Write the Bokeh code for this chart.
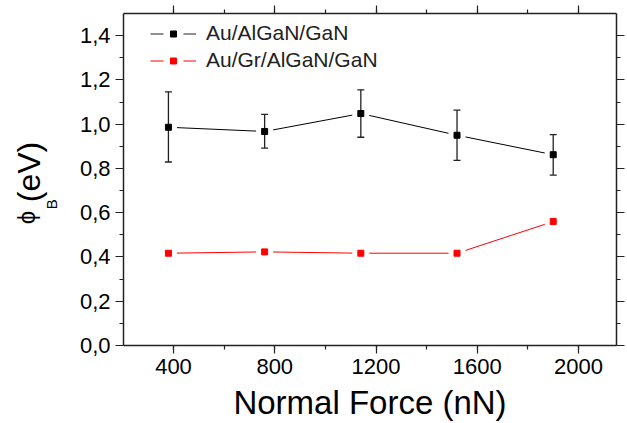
from bokeh.plotting import figure
from bokeh.layouts import row
from bokeh.models import (LinearAxis, SingleIntervalTicker, CustomJSTickFormatter,
                          Legend, LegendItem, Range1d, ColumnDataSource)
from bokeh.core.properties import value
from bokeh.embed import file_html
from bokeh.resources import INLINE
import math

# ---- data ----
force = [380, 760, 1140, 1520, 1900]
au_phi = [0.986, 0.967, 1.048, 0.950, 0.862]
au_hi = [1.146, 1.044, 1.155, 1.063, 0.953]
au_lo = [0.829, 0.892, 0.941, 0.836, 0.770]
gr_phi = [0.417, 0.423, 0.417, 0.417, 0.560]
labels = ["Au/AlGaN/GaN", "Au/Gr/AlGaN/GaN"]
x_title = "Normal Force (nN)"
y_title_parts = ["\u03d5", "B", "(eV)"]

FONT = "Liberation Sans"
W, H = 627, 423
LW = 60  # width of the strip holding the y-axis title

# ---- strip with the rotated y-axis title ----
q = figure(width=LW, height=H, output_backend="svg", toolbar_location=None,
           x_range=Range1d(0, LW), y_range=Range1d(0, H),
           x_axis_type=None, y_axis_type=None,
           min_border_left=0, min_border_right=0, min_border_top=0, min_border_bottom=0)
q.grid.visible = False
q.outline_line_color = None
ang = math.pi / 2
q.text(x=[26], y=[H - 260], text=[y_title_parts[0]], angle=ang, text_align="center",
       text_baseline="middle", text_font=value(FONT), text_font_size=value("24px"),
       text_color="black")
q.text(x=[51], y=[H - 243], text=[y_title_parts[1]], angle=ang, text_align="center",
       text_baseline="middle", text_font=value(FONT), text_font_size=value("15px"),
       text_color="black")
q.text(x=[28], y=[H - 202], text=[y_title_parts[2]], angle=ang, text_align="center",
       text_baseline="middle", text_font=value(FONT), text_font_size=value("32px"),
       text_color="black")

# ---- main plot ----
p = figure(width=W - LW, height=H, output_backend="svg", toolbar_location=None,
           x_range=Range1d(202.5, 2150), y_range=Range1d(0, 1.5),
           min_border_left=123 - LW, min_border_right=11, min_border_top=13, min_border_bottom=78)
p.grid.visible = False
p.outline_line_color = None
p.background_fill_color = "white"
p.border_fill_color = "white"

yfmt = CustomJSTickFormatter(code="return tick.toFixed(1).replace('.', ',');")
blank = CustomJSTickFormatter(code="return '';")

for ax in p.xaxis:
    ax.ticker = SingleIntervalTicker(interval=400, num_minor_ticks=2)
    ax.axis_label = x_title
for ax in p.yaxis:
    ax.ticker = SingleIntervalTicker(interval=0.2, num_minor_ticks=2)
    ax.formatter = yfmt

def style(ax):
    ax.axis_line_color = "#222222"
    ax.axis_line_width = 1.5
    ax.major_tick_line_color = "#222222"
    ax.minor_tick_line_color = "#222222"
    ax.major_tick_line_width = 1.2
    ax.minor_tick_line_width = 1.2
    ax.major_tick_in = 0
    ax.minor_tick_in = 0
    ax.major_tick_out = 8
    ax.minor_tick_out = 4
    ax.major_label_text_font = FONT
    ax.major_label_text_color = "black"
    ax.major_label_text_font_size = "22px"

for ax in p.xaxis + p.yaxis:
    style(ax)
p.xaxis.major_label_standoff = 5
p.yaxis.major_label_standoff = 5
p.xaxis.axis_label_text_font = FONT
p.xaxis.axis_label_text_font_size = "33px"
p.xaxis.axis_label_text_font_style = "normal"
p.xaxis.axis_label_text_color = "black"
p.xaxis.axis_label_standoff = 7

top = LinearAxis(ticker=SingleIntervalTicker(interval=400, num_minor_ticks=2), formatter=blank)
right = LinearAxis(ticker=SingleIntervalTicker(interval=0.2, num_minor_ticks=2), formatter=blank)
for ax in (top, right):
    style(ax)
    ax.major_label_standoff = 0
p.add_layout(top, "above")
p.add_layout(right, "right")

src_b = ColumnDataSource(dict(x=force, y=au_phi, hi=au_hi, lo=au_lo))
src_r = ColumnDataSource(dict(x=force, y=gr_phi))

# ---- black series ----
p.line("x", "y", source=src_b, line_color="black", line_width=1)
p.scatter("x", "y", source=src_b, marker="square", size=16, fill_color="white", line_color="white")
p.segment(x0="x", y0="lo", x1="x", y1="hi", source=src_b, line_color="#222222", line_width=1.3)
p.scatter("x", "hi", source=src_b, marker="dash", size=7, line_color="#222222", line_width=1.3)
p.scatter("x", "lo", source=src_b, marker="dash", size=7, line_color="#222222", line_width=1.3)
sq_b = p.scatter("x", "y", source=src_b, marker="square", size=6, fill_color="black", line_color="black")

# ---- red series ----
p.line("x", "y", source=src_r, line_color="#ff0000", line_width=1)
p.scatter("x", "y", source=src_r, marker="square", size=16, fill_color="white", line_color="white")
sq_r = p.scatter("x", "y", source=src_r, marker="square", size=6, fill_color="#ff0000", line_color="#ff0000")

# legend-only dashed lines (outside the visible range; they draw the "— ■ —" key)
leg_b = p.line(x=[-1000, -900], y=[-1, -1], line_color="#222222", line_width=1, line_dash="13 20")
leg_r = p.line(x=[-1000, -900], y=[-1, -1], line_color="#ff0000", line_width=1, line_dash="13 20")

legend = Legend(items=[LegendItem(label=labels[0], renderers=[leg_b, sq_b]),
                       LegendItem(label=labels[1], renderers=[leg_r, sq_r])],
                location=(27, 273), orientation="vertical",
                glyph_width=46, glyph_height=15, label_height=24,
                label_standoff=10, spacing=3, padding=0, margin=0,
                border_line_color=None, background_fill_alpha=0,
                label_text_font=FONT, label_text_font_size="21px",
                label_text_color="#222222")
p.add_layout(legend, "center")

layout = row(q, p, spacing=0)
open("out.html", "w").write(file_html(layout, INLINE))
